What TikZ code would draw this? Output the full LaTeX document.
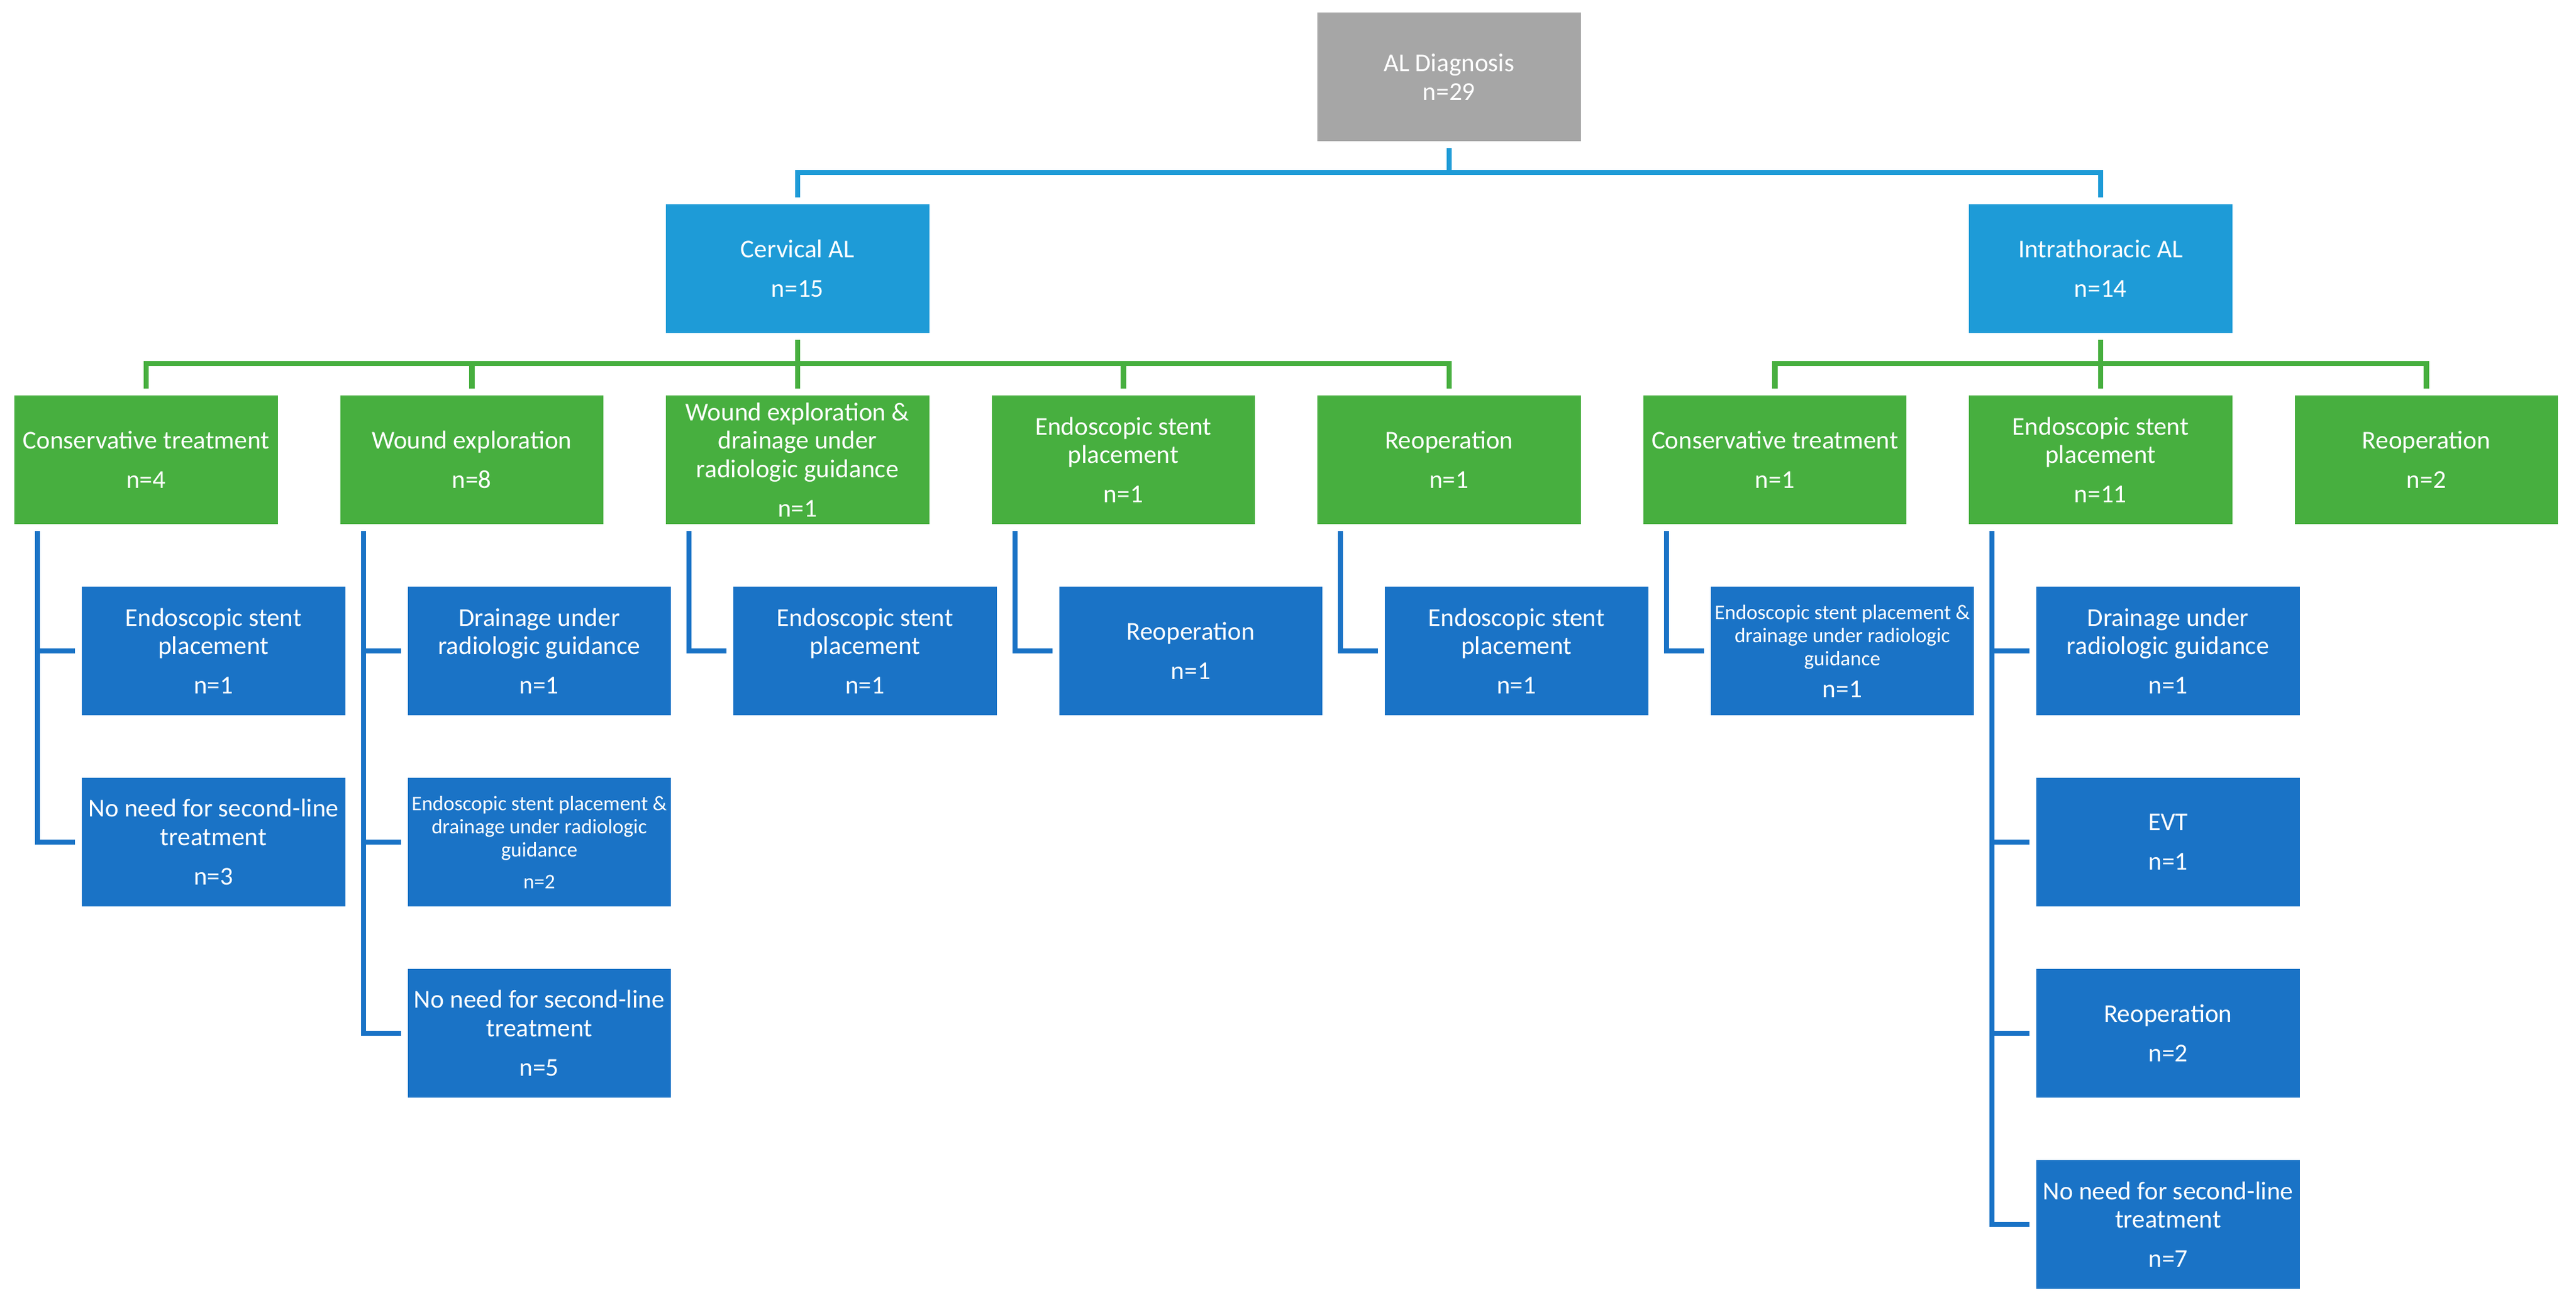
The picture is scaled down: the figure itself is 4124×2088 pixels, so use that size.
\documentclass[tikz,border=0pt]{standalone}
\usepackage{fontspec}
\setmainfont{Carlito}

\definecolor{alGrey}{HTML}{A6A6A6}
\definecolor{alSky}{HTML}{1E9BD7}
\definecolor{alGreen}{HTML}{47AF3F}
\definecolor{alBlue}{HTML}{1A73C6}

\newcommand{\normbox}{\fontsize{8.8}{9.8}\selectfont}
\newcommand{\smallbox}{\fontsize{7.1}{7.9}\selectfont}

\tikzset{
	box/.style={minimum width=3.163cm, minimum height=1.545cm, inner sep=0pt,
		align=center, text=white, font=\normbox},
	greybox/.style={box, fill=alGrey},
	skybox/.style={box, fill=alSky},
	greenbox/.style={box, fill=alGreen},
	bluebox/.style={box, fill=alBlue},
	skyline/.style={draw=alSky, line width=1.8pt},
	greenline/.style={draw=alGreen, line width=1.8pt},
	blueline/.style={draw=alBlue, line width=1.8pt},
}

\begin{document}
\begin{tikzpicture}[x=0.0075cm, y=-0.0075cm]
	\useasboundingbox (0,0) rectangle (4124,2088);
	
	%Diagnosis
	\node[greybox] (diag) at (2319.85,123) {AL Diagnosis\\n=29};
	
	%Site of the leak
	\node[skybox] (cerv) at (1276.85,430) {Cervical AL\\[3.6pt]n=15};
	\node[skybox] (intra) at (3362.85,430) {Intrathoracic AL\\[3.6pt]n=14};
	
	\foreach \s in {cerv,intra}
		\draw[skyline] ([yshift=-0.075cm]diag.south) |- ([yshift=0.375cm]\s.north) -- ([yshift=0.075cm]\s.north);
	
	%First-line treatment, cervical
	\node[greenbox] (cCons) at (233.85,736) {Conservative treatment\\[3.6pt]n=4};
	\node[greenbox] (cWound) at (755.35,736) {Wound exploration\\[3.6pt]n=8};
	\node[greenbox] (cWoDr) at (1276.85,736) {Wound exploration \&\\drainage under\\radiologic guidance\\[3.6pt]n=1};
	\node[greenbox] (cStent) at (1798.35,736) {Endoscopic stent\\placement\\[3.6pt]n=1};
	\node[greenbox] (cReop) at (2319.85,736) {Reoperation\\[3.6pt]n=1};
	
	%First-line treatment, intrathoracic
	\node[greenbox] (iCons) at (2841.35,736) {Conservative treatment\\[3.6pt]n=1};
	\node[greenbox] (iStent) at (3362.85,736) {Endoscopic stent\\placement\\[3.6pt]n=11};
	\node[greenbox] (iReop) at (3884.35,736) {Reoperation\\[3.6pt]n=2};
	
	\foreach \f in {cCons,cWound,cWoDr,cStent,cReop}
		\draw[greenline] ([yshift=-0.075cm]cerv.south) |- ([yshift=0.375cm]\f.north) -- ([yshift=0.075cm]\f.north);
	\foreach \f in {iCons,iStent,iReop}
		\draw[greenline] ([yshift=-0.075cm]intra.south) |- ([yshift=0.375cm]\f.north) -- ([yshift=0.075cm]\f.north);
	
	%Second-line treatment
	\node[bluebox] (cConsA) at (341.85,1042) {Endoscopic stent\\placement\\[3.6pt]n=1};
	\node[bluebox] (cConsB) at (341.85,1348) {No need for second-line\\treatment\\[3.6pt]n=3};
	
	\node[bluebox] (cWoundA) at (863.35,1042) {Drainage under\\radiologic guidance\\[3.6pt]n=1};
	\node[bluebox, font=\smallbox] (cWoundB) at (863.35,1348) {Endoscopic stent placement \&\\drainage under radiologic\\guidance\\[3pt]n=2};
	\node[bluebox] (cWoundC) at (863.35,1654) {No need for second-line\\treatment\\[3.6pt]n=5};
	
	\node[bluebox] (cWoDrA) at (1384.85,1042) {Endoscopic stent\\placement\\[3.6pt]n=1};
	\node[bluebox] (cStentA) at (1906.35,1042) {Reoperation\\[3.6pt]n=1};
	\node[bluebox] (cReopA) at (2427.85,1042) {Endoscopic stent\\placement\\[3.6pt]n=1};
	
	\node[bluebox, font=\smallbox] (iConsA) at (2949.35,1042) {Endoscopic stent placement \&\\drainage under radiologic\\guidance\\[3pt]{\normbox n=1}};
	
	\node[bluebox] (iStentA) at (3470.85,1042) {Drainage under\\radiologic guidance\\[3.6pt]n=1};
	\node[bluebox] (iStentB) at (3470.85,1348) {EVT\\[3.6pt]n=1};
	\node[bluebox] (iStentC) at (3470.85,1654) {Reoperation\\[3.6pt]n=2};
	\node[bluebox] (iStentD) at (3470.85,1960) {No need for second-line\\treatment\\[3.6pt]n=7};
	
	\foreach \p/\s in {cCons/cConsA, cCons/cConsB, cWound/cWoundA, cWound/cWoundB, cWound/cWoundC,
		cWoDr/cWoDrA, cStent/cStentA, cReop/cReopA, iCons/iConsA,
		iStent/iStentA, iStent/iStentB, iStent/iStentC, iStent/iStentD}
		\draw[blueline] ([xshift=0.285cm,yshift=-0.075cm]\p.south west) |- ([xshift=-0.075cm]\s.west);
\end{tikzpicture}
\end{document}
